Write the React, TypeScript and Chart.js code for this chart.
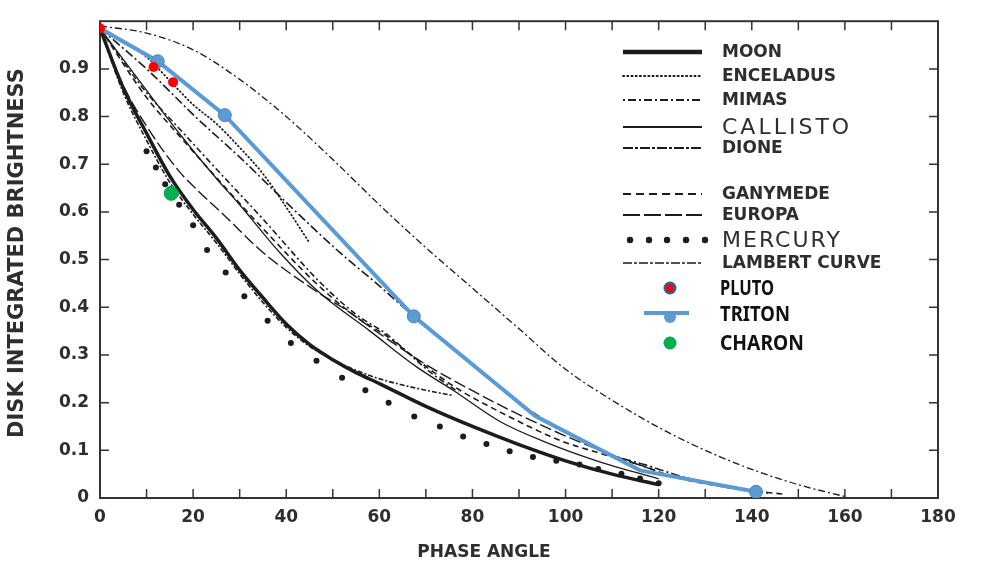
import React, { useEffect, useRef } from 'react';
import { Chart, registerables } from 'chart.js';

Chart.register(...registerables);

// ---------- data (phase angle in degrees, disk-integrated brightness) ----------
const X_TICKS = [0, 20, 40, 60, 80, 100, 120, 140, 160, 180];
const X_TICK_LABELS = ['0', '20', '40', '60', '80', '100', '120', '140', '160', '180'];
const Y_TICKS = [0, 0.1, 0.2, 0.3, 0.4, 0.5, 0.6, 0.7, 0.8, 0.9];
const Y_TICK_LABELS = ['0', '0.1', '0.2', '0.3', '0.4', '0.5', '0.6', '0.7', '0.8', '0.9'];
const X_TICK_MARKS = [10, 20, 30, 40, 50, 60, 70, 80, 90, 100, 110, 120, 130, 140, 150, 160, 170];
const Y_TICK_MARKS = [0.1, 0.2, 0.3, 0.4, 0.5, 0.6, 0.7, 0.8, 0.9];

const MOON_X = [0, 5, 10, 15, 20, 25, 30, 35, 40, 45, 50, 55, 60, 70, 80, 90, 100, 110, 120];
const MOON_Y = [0.985, 0.86, 0.765, 0.675, 0.605, 0.545, 0.478, 0.42, 0.365, 0.322, 0.29, 0.263, 0.24, 0.192, 0.15, 0.112, 0.078, 0.05, 0.028];

const MOON2_X = [0, 5, 10, 15, 20, 25, 30, 35, 40, 45, 50, 55, 60, 65, 70, 75.8];
const MOON2_Y = [0.985, 0.85, 0.75, 0.662, 0.595, 0.535, 0.47, 0.41, 0.358, 0.318, 0.29, 0.268, 0.25, 0.237, 0.226, 0.215];

const ENCELADUS_X = [0, 10, 15, 20, 25, 30, 35, 40, 45];
const ENCELADUS_Y = [0.985, 0.925, 0.875, 0.825, 0.785, 0.735, 0.68, 0.61, 0.535];

const MIMAS_X = [0, 10, 17, 25, 35, 47, 55, 61.5, 70.8, 77];
const MIMAS_Y = [0.985, 0.85, 0.775, 0.69, 0.585, 0.455, 0.385, 0.344, 0.265, 0.222];

const CALLISTO_X = [0, 10, 17, 25, 30, 38.6, 47, 58, 68, 76, 86, 95, 107, 120];
const CALLISTO_Y = [0.985, 0.855, 0.765, 0.67, 0.615, 0.515, 0.432, 0.35, 0.275, 0.225, 0.16, 0.12, 0.077, 0.04];

const DIONE_X = [0, 10, 21, 30, 40, 51.5, 60, 67.4, 80, 90, 100, 110, 117, 125, 135, 144];
const DIONE_Y = [0.985, 0.9, 0.795, 0.715, 0.62, 0.515, 0.445, 0.381, 0.28, 0.2, 0.138, 0.09, 0.07, 0.045, 0.022, 0.01];

const GANYMEDE_X = [0, 10, 17, 25, 35, 47, 55, 61.5, 70.8, 77, 86, 99, 107, 117, 123, 130, 140, 147];
const GANYMEDE_Y = [0.985, 0.84, 0.76, 0.672, 0.565, 0.445, 0.38, 0.34, 0.27, 0.228, 0.18, 0.12, 0.095, 0.066, 0.045, 0.03, 0.015, 0.008];

const EUROPA_X = [0, 5, 10, 17, 21, 27, 35, 47, 52, 60, 70, 80, 90, 100, 110, 120];
const EUROPA_Y = [0.985, 0.865, 0.78, 0.685, 0.645, 0.59, 0.515, 0.43, 0.4, 0.345, 0.28, 0.225, 0.175, 0.13, 0.09, 0.055];

const MERCURY_X = [10, 12, 14, 17, 20, 23, 27, 31, 36, 41, 46.5, 52, 57, 62, 67.5, 73, 78, 83, 88, 93, 98, 103, 107, 112, 116, 120];
const MERCURY_Y = [0.727, 0.693, 0.658, 0.615, 0.572, 0.52, 0.473, 0.423, 0.372, 0.325, 0.288, 0.252, 0.226, 0.2, 0.171, 0.15, 0.129, 0.113, 0.098, 0.086, 0.078, 0.07, 0.061, 0.051, 0.041, 0.031];

const LAMBERT_X = [0, 10, 20, 30, 40, 50, 60, 70, 80, 90, 100, 110, 120, 130, 140, 150, 160];
const LAMBERT_Y = [0.99, 0.975, 0.94, 0.878, 0.8, 0.71, 0.615, 0.525, 0.44, 0.355, 0.27, 0.205, 0.148, 0.1, 0.06, 0.028, 0.003];

const TRITON_X = [0, 12.4, 26.8, 67.4, 93.5, 116, 140.9];
const TRITON_Y = [0.985, 0.916, 0.803, 0.381, 0.172, 0.058, 0.013];
const TRITON_MARKED = [false, true, true, true, false, false, true];

const PLUTO_X = [0, 11.5, 15.7];
const PLUTO_Y = [0.985, 0.904, 0.872];

const CHARON_X = [15.3];
const CHARON_Y = [0.639];

const LEGEND_NAMES = ['MOON', 'ENCELADUS', 'MIMAS', 'CALLISTO', 'DIONE', 'GANYMEDE', 'EUROPA', 'MERCURY', 'LAMBERT CURVE', 'PLUTO', 'TRITON', 'CHARON'];

// ---------- helpers ----------
const pts = (xs: number[], ys: number[]) => xs.map((x, i) => ({ x, y: ys[i] }));
const INK = '#1c1c1c';
const TEXT = '#2e2e2e';
const BLUE = '#5b9bd5';

const curve = (label: string, xs: number[], ys: number[], width: number, dash: number[], extra: any = {}) => ({
  label,
  data: pts(xs, ys),
  borderColor: INK,
  backgroundColor: INK,
  borderWidth: width,
  borderDash: dash,
  pointRadius: 0,
  cubicInterpolationMode: 'monotone',
  fill: false,
  ...extra,
});

const legendStyle: Record<string, any> = {
  MOON: { y: 52, kind: 'line', dash: [], w: 4.5, font: 'bold 17px "DejaVu Sans"', ls: '0px' },
  ENCELADUS: { y: 76, kind: 'line', dash: [1.2, 3], w: 1.8, cap: 'round', font: 'bold 17px "DejaVu Sans"', ls: '0px' },
  MIMAS: { y: 100, kind: 'line', dash: [2, 3, 8, 3], w: 2.2, font: 'bold 17px "DejaVu Sans"', ls: '0px' },
  CALLISTO: { y: 127, kind: 'line', dash: [], w: 2, font: '22px "DejaVu Sans"', ls: '3px' },
  DIONE: { y: 148, kind: 'line', dash: [10, 2, 3, 2], w: 2.2, font: 'bold 17px "DejaVu Sans"', ls: '0px' },
  GANYMEDE: { y: 194, kind: 'line', dash: [8, 5], w: 2, font: 'bold 17px "DejaVu Sans"', ls: '0px' },
  EUROPA: { y: 215, kind: 'line', dash: [17, 4], w: 2, font: 'bold 17px "DejaVu Sans"', ls: '0px' },
  MERCURY: { y: 240, kind: 'dots', font: '22px "DejaVu Sans"', ls: '2px' },
  'LAMBERT CURVE': { y: 263, kind: 'line', dash: [9, 2, 3, 2], w: 1.5, font: 'bold 17px "DejaVu Sans"', ls: '0px' },
  PLUTO: { y: 288, kind: 'pluto', font: 'bold 22px "Noto Sans"', ls: '0px', maxW: 54 },
  TRITON: { y: 314, kind: 'triton', font: 'bold 22px "Noto Sans"', ls: '0px', maxW: 70 },
  CHARON: { y: 343, kind: 'charon', font: 'bold 22px "Noto Sans"', ls: '0px', maxW: 84 },
};

const framePlugin = {
  id: 'frame',
  beforeDraw(chart: any) {
    const { ctx, width, height } = chart;
    ctx.save();
    ctx.fillStyle = '#ffffff';
    ctx.fillRect(0, 0, width, height);
    ctx.restore();
  },
  beforeDatasetsDraw(chart: any) {
    const { ctx, chartArea: a, scales } = chart;
    const x = scales.x;
    const y = scales.y;
    ctx.save();
    ctx.strokeStyle = '#333';
    ctx.lineWidth = 2;
    ctx.strokeRect(a.left, a.top, a.right - a.left, a.bottom - a.top);
    ctx.lineWidth = 1.5;
    ctx.beginPath();
    for (const v of X_TICK_MARKS) {
      const px = x.getPixelForValue(v);
      ctx.moveTo(px, a.bottom);
      ctx.lineTo(px, a.bottom - 9);
      ctx.moveTo(px, a.top);
      ctx.lineTo(px, a.top + 9);
    }
    for (const v of Y_TICK_MARKS) {
      const py = y.getPixelForValue(v);
      ctx.moveTo(a.left, py);
      ctx.lineTo(a.left + 9, py);
      ctx.moveTo(a.right, py);
      ctx.lineTo(a.right - 9, py);
    }
    ctx.stroke();

    // axis titles
    ctx.fillStyle = TEXT;
    ctx.textAlign = 'center';
    ctx.textBaseline = 'middle';
    ctx.font = 'bold 17px "DejaVu Sans"';
    ctx.fillText('PHASE ANGLE', 484, 553);
    ctx.save();
    ctx.translate(18, 253);
    ctx.rotate(-Math.PI / 2);
    ctx.font = 'bold 21px "DejaVu Sans"';
    ctx.fillText('DISK INTEGRATED BRIGHTNESS', 0, 0);
    ctx.restore();
    ctx.restore();
  },
  afterDraw(chart: any) {
    const { ctx } = chart;
    ctx.save();
    const x0 = 623;
    const x1 = 702;
    for (const name of LEGEND_NAMES) {
      const s = legendStyle[name];
      ctx.save();
      if (s.kind === 'line') {
        ctx.strokeStyle = INK;
        ctx.lineWidth = s.w;
        ctx.lineCap = s.cap || 'butt';
        ctx.setLineDash(s.dash);
        ctx.beginPath();
        ctx.moveTo(x0, s.y);
        ctx.lineTo(x1, s.y);
        ctx.stroke();
      } else if (s.kind === 'dots') {
        ctx.fillStyle = INK;
        for (const dx of [630, 649, 667, 686, 705]) {
          ctx.beginPath();
          ctx.arc(dx, s.y, 3.2, 0, Math.PI * 2);
          ctx.fill();
        }
      } else if (s.kind === 'pluto') {
        ctx.fillStyle = '#3a5a92';
        ctx.beginPath();
        ctx.arc(670, s.y, 6.5, 0, Math.PI * 2);
        ctx.fill();
        ctx.fillStyle = '#ff0000';
        ctx.beginPath();
        ctx.arc(670, s.y, 3.8, 0, Math.PI * 2);
        ctx.fill();
      } else if (s.kind === 'triton') {
        ctx.strokeStyle = BLUE;
        ctx.lineWidth = 4;
        ctx.beginPath();
        ctx.moveTo(644, s.y - 1);
        ctx.lineTo(689, s.y - 1);
        ctx.stroke();
        ctx.fillStyle = BLUE;
        ctx.beginPath();
        ctx.arc(670, s.y + 3, 6, 0, Math.PI * 2);
        ctx.fill();
      } else if (s.kind === 'charon') {
        ctx.fillStyle = '#00b050';
        ctx.beginPath();
        ctx.arc(670, s.y, 6.5, 0, Math.PI * 2);
        ctx.fill();
      }
      ctx.restore();
      ctx.fillStyle = name === 'PLUTO' || name === 'TRITON' || name === 'CHARON' ? '#111' : TEXT;
      ctx.font = s.font;
      (ctx as any).letterSpacing = s.ls;
      ctx.textAlign = 'left';
      ctx.textBaseline = 'middle';
      const tx = s.maxW ? 720 : 722;
      if (s.maxW) ctx.fillText(name, tx, s.y + 1, s.maxW);
      else ctx.fillText(name, tx, s.y + 1);
    }
    (ctx as any).letterSpacing = '0px';
    ctx.restore();
  },
};

export default function App() {
  const ref = useRef<HTMLCanvasElement>(null);

  useEffect(() => {
    const canvas = ref.current;
    if (!canvas) return;
    const datasets: any[] = [
      {
        label: 'CHARON', data: pts(CHARON_X, CHARON_Y), showLine: false,
        pointRadius: 7, pointBackgroundColor: '#00b050', pointBorderColor: '#00a048', pointBorderWidth: 1,
      },
      {
        label: 'PLUTO', data: pts(PLUTO_X, PLUTO_Y), showLine: false,
        pointRadius: 5, pointBackgroundColor: '#ff0000', pointBorderColor: '#ff0000', pointBorderWidth: 0,
      },
      {
        label: 'TRITON', data: pts(TRITON_X, TRITON_Y), borderColor: BLUE, borderWidth: 4, tension: 0,
        pointRadius: TRITON_MARKED.map((m) => (m ? 6.5 : 0)),
        pointBackgroundColor: BLUE, pointBorderColor: '#4a86c0', pointBorderWidth: 1,
      },
      {
        label: 'MERCURY', data: pts(MERCURY_X, MERCURY_Y), showLine: false,
        pointRadius: 3, pointBackgroundColor: INK, pointBorderWidth: 0,
      },
      curve('MOON', MOON_X, MOON_Y, 3.5, []),
      curve('MOON (alt)', MOON2_X, MOON2_Y, 1.6, [5, 2, 2, 2]),
      curve('ENCELADUS', ENCELADUS_X, ENCELADUS_Y, 1.8, [0.8, 3], { borderCapStyle: 'round' }),
      curve('MIMAS', MIMAS_X, MIMAS_Y, 1.6, [6, 3, 2, 3]),
      curve('CALLISTO', CALLISTO_X, CALLISTO_Y, 1.3, []),
      curve('DIONE', DIONE_X, DIONE_Y, 1.6, [9, 3, 2, 3]),
      curve('GANYMEDE', GANYMEDE_X, GANYMEDE_Y, 1.6, [6, 4]),
      curve('EUROPA', EUROPA_X, EUROPA_Y, 1.4, [12, 4]),
      curve('LAMBERT CURVE', LAMBERT_X, LAMBERT_Y, 1.3, [7, 3, 2, 3]),
    ];

    const tickFont = { family: 'DejaVu Sans', size: 17, weight: 'bold' as const };

    const chart = new Chart(canvas, {
      type: 'line',
      data: { datasets },
      options: {
        responsive: false,
        animation: false,
        devicePixelRatio: 1,
        layout: { padding: { top: 10, right: 53, left: 0, bottom: 0 } },
        plugins: { legend: { display: false }, tooltip: { enabled: false }, title: { display: false } },
        elements: { point: { radius: 0 } },
        scales: {
          x: {
            type: 'linear', min: 0, max: 180,
            grid: { display: false, drawTicks: false },
            border: { display: false },
            afterBuildTicks: (s: any) => { s.ticks = X_TICKS.map((v) => ({ value: v })); },
            afterFit: (s: any) => { s.height = 71; },
            ticks: {
              padding: 9, font: tickFont, color: TEXT, maxRotation: 0, autoSkip: false,
              callback: (_v: any, i: number) => X_TICK_LABELS[i],
            },
          },
          y: {
            type: 'linear', min: 0, max: 1,
            grid: { display: false, drawTicks: false },
            border: { display: false },
            afterBuildTicks: (s: any) => { s.ticks = Y_TICKS.map((v) => ({ value: v })); },
            afterFit: (s: any) => { s.width = 100; },
            ticks: {
              padding: 11, font: tickFont, color: TEXT, autoSkip: false,
              callback: (_v: any, i: number) => Y_TICK_LABELS[i],
            },
          },
        },
      } as any,
      plugins: [framePlugin],
    });
    return () => chart.destroy();
  }, []);

  return (
    <div style={{ position: 'fixed', left: 0, top: 0, width: 991, height: 569, background: '#fff' }}>
      <canvas ref={ref} width={991} height={569} style={{ width: 991, height: 569, display: 'block' }} />
    </div>
  );
}
